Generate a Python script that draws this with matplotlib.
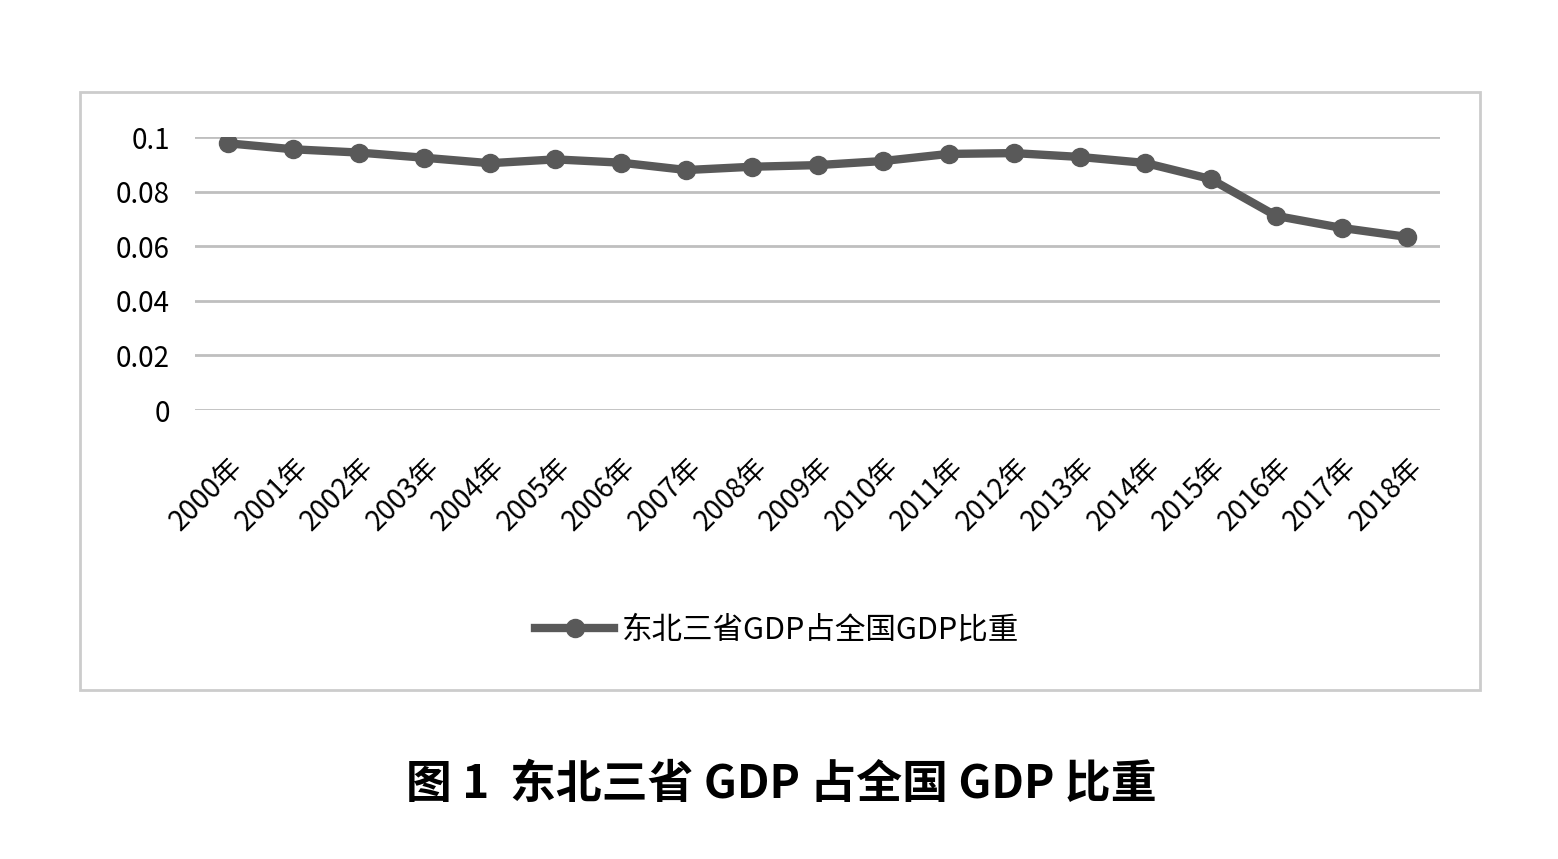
import matplotlib
matplotlib.use("Agg")
import matplotlib.pyplot as plt
from matplotlib.patches import Rectangle
from matplotlib.lines import Line2D

plt.rcParams['font.family'] = ['Noto Sans CJK SC', 'DejaVu Sans']

years = [f"{y}年" for y in range(2000, 2019)]
share = [0.0977, 0.0955, 0.0943, 0.0924, 0.0904, 0.0918, 0.0906, 0.0879, 0.0891,
         0.0897, 0.0912, 0.0938, 0.0941, 0.0927, 0.0905, 0.0846, 0.0711, 0.0667, 0.0634]
yticks = [0, 0.02, 0.04, 0.06, 0.08, 0.1]
ytick_labels = ["0", "0.02", "0.04", "0.06", "0.08", "0.1"]
series_name = "东北三省GDP占全国GDP比重"
caption = "图 1  东北三省 GDP 占全国 GDP 比重"

W, H = 1558, 859
fig = plt.figure(figsize=(W / 100, H / 100), dpi=100)
fig.patch.set_facecolor("white")

# outer chart frame
fig.patches.append(Rectangle((80 / W, 1 - 690 / H), 1400 / W, 598 / H,
                             transform=fig.transFigure, fill=False,
                             edgecolor="#cccccc", linewidth=2))

ax = fig.add_axes([195 / W, 1 - 410 / H, 1245 / W, 273 / H])
x = list(range(len(years)))
line_color = "#595959"
ax.plot(x, share, color=line_color, linewidth=6, marker="o", markersize=13,
        markerfacecolor=line_color, markeredgecolor=line_color, zorder=3)
ax.set_xlim(-0.5, len(years) - 0.5)
ax.set_ylim(0, 0.1)
ax.set_yticks(yticks)
ax.set_yticklabels(ytick_labels, fontsize=20)
ax.set_xticks(x)
ax.set_xticklabels(years, rotation=45, ha="right", va="top",
                   rotation_mode="anchor", fontsize=20)
ax.tick_params(axis="x", length=0, pad=30)
ax.tick_params(axis="y", length=0, pad=18)
ax.grid(axis="y", color="#bfbfbf", linewidth=2)
ax.set_axisbelow(True)
for s in ax.spines.values():
    s.set_visible(False)

handle = Line2D([0], [0], color=line_color, linewidth=6, marker="o",
                markersize=13)
fig.legend([handle], [series_name], loc="center",
           bbox_to_anchor=(777 / W, 1 - 630 / H), frameon=False,
           fontsize=22, handlelength=2.6, handletextpad=0.25)

fig.text(781 / W, 1 - 785 / H, caption, ha="center", va="center",
         fontsize=33, fontweight="bold")

fig.savefig("out.png", dpi=100, facecolor="white")
